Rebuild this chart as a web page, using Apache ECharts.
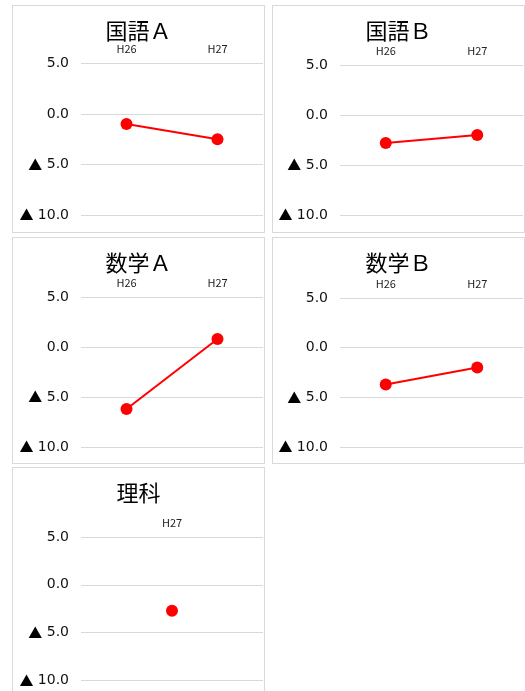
<!DOCTYPE html>
<html>
<head>
<meta charset="utf-8">
<script src="https://cdn.jsdelivr.net/npm/echarts@6/dist/echarts.min.js"></script>
<style>
  html, body { margin: 0; padding: 0; background: #fff; width: 525px; height: 691px; overflow: hidden; }
  .panel { position: absolute; box-sizing: border-box; border: 1px solid #d9d9d9; background: #fff; }
</style>
</head>
<body>
<script>
// ---- data ----
const subjects = ["国語Ａ", "国語Ｂ", "数学Ａ", "数学Ｂ", "理科"];
const years = ["H26", "H27"];
const scienceYears = ["H27"];
const kokugoA = [-1.0, -2.5];
const kokugoB = [-2.8, -2.0];
const sugakuA = [-6.2, 0.8];
const sugakuB = [-3.7, -2.0];
const rika = [-2.7];
const yMin = -10, yMax = 5, yStep = 5;

// ---- layout (positions / sizes only) ----
const panels = [
  { left: 12,  top: 5,   width: 253, height: 228, gTop: 57.5, gH: 151.5, gLeft: 68, cats: years, vals: kokugoA, name: subjects[0] },
  { left: 272, top: 5,   width: 253, height: 228, gTop: 59,   gH: 150,   gLeft: 67, cats: years, vals: kokugoB, name: subjects[1] },
  { left: 12,  top: 237, width: 253, height: 227, gTop: 59,   gH: 150,   gLeft: 68, cats: years, vals: sugakuA, name: subjects[2] },
  { left: 272, top: 237, width: 253, height: 227, gTop: 60,   gH: 149,   gLeft: 67, cats: years, vals: sugakuB, name: subjects[3] },
  { left: 12,  top: 467, width: 253, height: 240, gTop: 69,   gH: 143.5, gLeft: 68, cats: scienceYears, vals: rika, name: subjects[4] }
];

const FONT = "'Noto Sans CJK JP', 'Noto Sans', sans-serif";
const NUMFONT = "'DejaVu Sans', sans-serif";

panels.forEach(p => {
  const div = document.createElement('div');
  div.className = 'panel';
  div.style.left = p.left + 'px';
  div.style.top = p.top + 'px';
  div.style.width = p.width + 'px';
  div.style.height = p.height + 'px';
  document.body.appendChild(div);
  const chart = echarts.init(div, null, { renderer: 'canvas', width: p.width - 2, height: p.height - 2 });
  chart.setOption({
    animation: false,
    title: {
      text: p.name,
      left: 'center',
      top: 9,
      textStyle: { fontFamily: FONT, fontSize: 22, fontWeight: 'normal', color: '#000' }
    },
    grid: { left: p.gLeft, right: 1, top: p.gTop, height: p.gH },
    xAxis: {
      type: 'category',
      position: 'top',
      data: p.cats,
      boundaryGap: true,
      axisLine: { show: false },
      axisTick: { show: false },
      axisLabel: { margin: 9, fontSize: 11, fontFamily: FONT, color: '#222' },
      splitLine: { show: false }
    },
    yAxis: {
      type: 'value',
      min: yMin,
      max: yMax,
      interval: yStep,
      axisLine: { show: false },
      axisTick: { show: false },
      axisLabel: {
        margin: 12,
        fontSize: 14,
        fontFamily: NUMFONT,
        color: '#111',
        formatter: v => (v < 0 ? '{t|▲} ' + Math.abs(v).toFixed(1) : v.toFixed(1)),
        rich: {
          t: { fontFamily: FONT, fontSize: 14, color: '#000' }
        }
      },
      splitLine: { lineStyle: { color: '#d9d9d9', width: 1 } }
    },
    series: [{
      type: 'line',
      data: p.vals,
      symbol: 'circle',
      symbolSize: 12,
      lineStyle: { color: '#ff0000', width: 2 },
      itemStyle: { color: '#ff0000' }
    }]
  });
});
</script>
</body>
</html>
